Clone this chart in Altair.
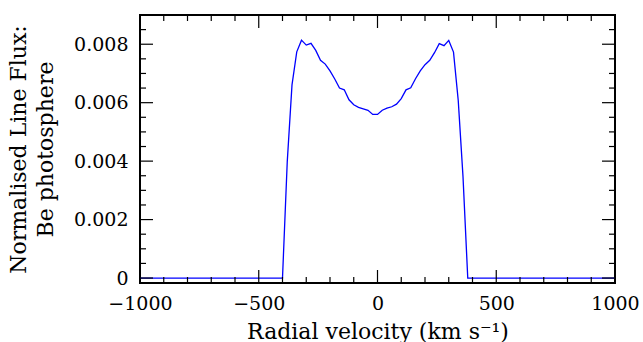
import altair as alt
import pandas as pd

velocity = [-1000, -400, -380, -360, -340, -320, -300, -280, -260, -240, -220,
            -200, -180, -160, -140, -120, -100, -80, -60, -40, -20, 0,
            20, 40, 60, 80, 100, 120, 140, 160, 180, 200, 220, 240, 260,
            280, 300, 320, 340, 360, 380, 1000]
flux = [0.0, 0.0, 0.00398, 0.00661, 0.00774, 0.00814, 0.00797, 0.00803, 0.00779,
        0.00745, 0.00732, 0.00709, 0.00681, 0.00650, 0.00644, 0.00610, 0.00593,
        0.00584, 0.00579, 0.00574, 0.00560, 0.00560, 0.00574, 0.00581, 0.00586,
        0.00595, 0.00614, 0.00644, 0.00651, 0.00682, 0.00709, 0.00730, 0.00745,
        0.00771, 0.00802, 0.00795, 0.00813, 0.00773, 0.00607, 0.00347, 0.0, 0.0]

x_major = [-1000, -500, 0, 500, 1000]
x_minor = [-900, -800, -700, -600, -400, -300, -200, -100,
           100, 200, 300, 400, 600, 700, 800, 900]
y_major = [0.0, 0.002, 0.004, 0.006, 0.008]
y_minor = [0.0005, 0.001, 0.0015, 0.0025, 0.003, 0.0035, 0.0045, 0.005,
           0.0055, 0.0065, 0.007, 0.0075, 0.0085]

W, H = 475, 268
MAJ, MIN = 13, 6
FONT = "DejaVu Serif"

xscale = alt.Scale(domain=[-1000, 1000], nice=False, zero=False)
yscale = alt.Scale(domain=[-0.00017, 0.009], nice=False, zero=False)

xaxis = alt.Axis(values=x_major, ticks=False, domain=False, grid=False,
                 format="d", labelPadding=11, labelFontSize=19, labelFont=FONT,
                 labelColor="black", labelFlush=False,
                 title="Radial velocity (km s\u207b\u00b9)",
                 titleFont=FONT, titleFontSize=22, titleFontWeight="normal",
                 titleColor="black", titlePadding=8)
yaxis = alt.Axis(values=y_major, ticks=False, domain=False, grid=False,
                 format="~g", labelPadding=12, labelFontSize=19,
                 labelFont=FONT, labelColor="black", labelFlush=False,
                 title=["Normalised Line Flux:", "Be photosphere"],
                 titleFont=FONT, titleFontSize=22, titleFontWeight="normal",
                 titleColor="black", titleLineHeight=27, titlePadding=16)

df = pd.DataFrame({"v": velocity, "f": flux})

line = alt.Chart(df).mark_line(color="#0000ff", strokeWidth=1.3).encode(
    x=alt.X("v:Q", scale=xscale, axis=xaxis),
    y=alt.Y("f:Q", scale=yscale, axis=yaxis),
)

def xticks(vals, length):
    d = pd.DataFrame({"v": vals})
    bottom = alt.Chart(d).mark_rule(color="black", strokeWidth=1.2).encode(
        x=alt.X("v:Q", scale=xscale, axis=xaxis),
        y=alt.value(H), y2=alt.value(H - length))
    top = alt.Chart(d).mark_rule(color="black", strokeWidth=1.2).encode(
        x=alt.X("v:Q", scale=xscale, axis=xaxis),
        y=alt.value(0), y2=alt.value(length))
    return [bottom, top]

def yticks(vals, length):
    d = pd.DataFrame({"f": vals})
    left = alt.Chart(d).mark_rule(color="black", strokeWidth=1.2).encode(
        y=alt.Y("f:Q", scale=yscale, axis=yaxis),
        x=alt.value(0), x2=alt.value(length))
    right = alt.Chart(d).mark_rule(color="black", strokeWidth=1.2).encode(
        y=alt.Y("f:Q", scale=yscale, axis=yaxis),
        x=alt.value(W), x2=alt.value(W - length))
    return [left, right]

layers = [line] + xticks(x_major, MAJ) + xticks(x_minor, MIN) + \
    yticks(y_major, MAJ) + yticks(y_minor, MIN)

chart = alt.layer(*layers).properties(
    width=W, height=H,
    autosize=alt.AutoSizeParams(type="none"),
    padding={"left": 140, "top": 15, "right": 28, "bottom": 59},
    background="white",
).configure_view(stroke="black", strokeWidth=2)

chart.save("out.html", embed_options={"renderer": "svg", "actions": False})
